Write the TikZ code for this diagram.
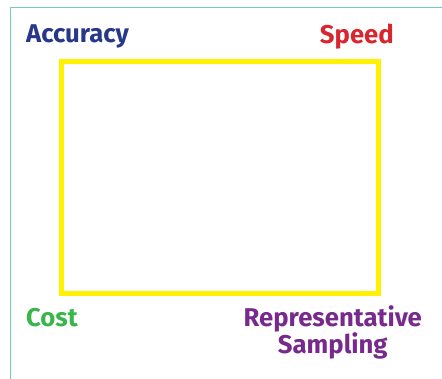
\documentclass[tikz,border=0pt]{standalone}
\usepackage{fontspec}
\setmainfont{Fira Sans}
\definecolor{tealline}{HTML}{6FD0B8}
\definecolor{boxyellow}{HTML}{FFF200}
\definecolor{accblue}{HTML}{27378A}
\definecolor{spdred}{HTML}{D7262E}
\definecolor{costgreen}{HTML}{3AB54A}
\definecolor{reppurple}{HTML}{772A8C}
\begin{document}
\begin{tikzpicture}[x=1pt,y=-1pt,
  lbl/.style={font=\fontsize{25.7}{25.7}\selectfont\bfseries, inner sep=0pt},
  frameline/.style={tealline, line width=1.3pt}]
\useasboundingbox (0,0) rectangle (442,379);
\coordinate (tl) at (10.3,7.5);
\coordinate (tr) at (442,7.5);
\coordinate (bl) at (10.3,379);
\draw[frameline] (tl) -- (tr);
\draw[frameline] (tl) -- (bl);
\node[draw=boxyellow, line width=5pt, minimum width=317.5pt, minimum height=232.5pt, inner sep=0pt] (box) at (219.75,177.75) {};
\node[lbl, text=accblue, anchor=base west] (acc) at (26,42.5) {Accuracy};
\node[lbl, text=spdred, anchor=base east] (spd) at (394,43.3) {Speed};
\node[lbl, text=costgreen, anchor=base west] (cost) at (26,326.7) {Cost};
\node[lbl, text=reppurple, align=center, anchor=base] (rep) at (332.8,354) {Representative\\Sampling};
\end{tikzpicture}
\end{document}
